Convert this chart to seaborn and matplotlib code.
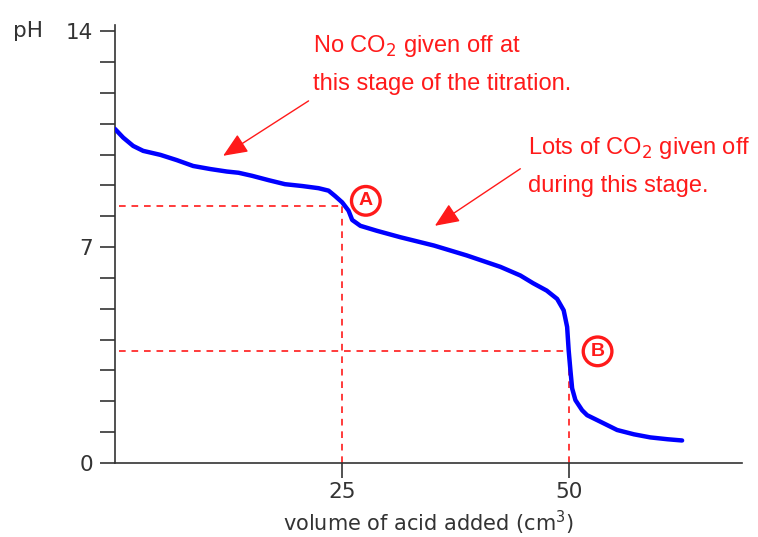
import matplotlib
matplotlib.use("Agg")
import matplotlib.pyplot as plt
import pandas as pd
import seaborn as sns

# titration curve
volume = [0, 0.9, 2.0, 3.1, 5.0, 6.8, 8.6, 10.5, 12.3, 13.6, 15.1, 16.9,
          18.7, 20.6, 22.4, 23.5, 24.2, 25.0, 25.7, 26.1, 27.0, 28.8, 31.4,
          35.1, 38.7, 42.4, 44.6, 46.0, 47.5, 48.65, 49.37, 49.75, 49.92,
          50.11, 50.30, 50.66, 51.4, 51.95, 53.4, 55.25, 57.1, 58.9, 60.8,
          62.4]
ph = [10.83, 10.55, 10.28, 10.12, 9.99, 9.82, 9.63, 9.53, 9.45, 9.41, 9.31,
      9.17, 9.04, 8.98, 8.91, 8.83, 8.66, 8.45, 8.18, 7.88, 7.69, 7.53, 7.32,
      7.05, 6.73, 6.36, 6.08, 5.83, 5.59, 5.32, 4.95, 4.41, 3.65, 3.01,
      2.42, 2.04, 1.71, 1.55, 1.34, 1.07, 0.93, 0.83, 0.77, 0.73]

# equivalence points A and B
eq_labels = ["A", "B"]
eq_volume = [25, 50]
eq_ph = [8.34, 3.62]

x_ticks = [25, 50]
y_labels = {0: "0", 7: "7", 14: "14"}

df = pd.DataFrame({"volume": volume, "ph": ph})

sns.set_style("ticks")
plt.rcParams["font.family"] = ["DejaVu Sans"]

red = "#ff1a1a"
grey = "#333333"
note_font = "Liberation Sans"

fig = plt.figure(figsize=(7.58, 5.37), dpi=100)
ax = fig.add_axes([0.1517, 0.1378, 0.979 - 0.1517, 0.9534 - 0.1378])

# dashed guides to the equivalence points
for v, p in zip(eq_volume, eq_ph):
    ax.plot([0.4, v], [p, p], color=red, lw=1.2, ls=(0, (4, 3.5)), zorder=1)
    ax.plot([v, v], [0, p], color=red, lw=1.2, ls=(0, (4, 3.5)), zorder=1)

sns.lineplot(data=df, x="volume", y="ph", color="#0000ff", lw=3.2,
             estimator=None, sort=False, ax=ax, zorder=3)

# circled letters
offsets = [(2.6, 0.16), (3.1, 0.0)]
for lab, v, p, (dx, dy) in zip(eq_labels, eq_volume, eq_ph, offsets):
    ax.text(v + dx, p + dy, lab, color=red, fontsize=14, fontweight="bold",
            family=note_font, ha="center", va="center", zorder=4,
            bbox=dict(boxstyle="circle,pad=0.3", fc="white", ec=red, lw=2.4))

arrow = dict(arrowstyle="-|>,head_length=0.75,head_width=0.32",
             mutation_scale=20, color=red, lw=1.0, shrinkA=0, shrinkB=0)

# notes with arrows
ax.text(21.8, 13.51, "No CO$_2$ given off at", color=red, fontsize=17,
        family=note_font, ha="left", va="center")
ax.text(21.8, 12.29, "this stage of the titration.", color=red, fontsize=17,
        family=note_font, ha="left", va="center")
ax.annotate("", xy=(11.9, 9.96), xytext=(21.3, 11.74), arrowprops=arrow)

ax.text(45.4, 10.22, "Lots of CO$_2$ given off", color=red, fontsize=17,
        family=note_font, ha="left", va="center")
ax.text(45.4, 8.99, "during this stage.", color=red, fontsize=17,
        family=note_font, ha="left", va="center")
ax.annotate("", xy=(35.2, 7.69), xytext=(44.6, 9.54), arrowprops=arrow)

ax.set_xlim(0, 69)
ax.set_ylim(0, 14.2)
ax.set_xticks(x_ticks)
ax.set_xticklabels([str(t) for t in x_ticks])
ax.set_yticks(range(0, 15))
ax.set_yticklabels([y_labels.get(i, "") for i in range(0, 15)])
ax.tick_params(axis="both", length=10.5, width=1.2, color=grey,
               labelcolor=grey, labelsize=15.5)
ax.tick_params(axis="y", pad=5)
ax.tick_params(axis="x", pad=3)

sns.despine(ax=ax)
for side in ["left", "bottom"]:
    ax.spines[side].set_color(grey)
    ax.spines[side].set_linewidth(1.2)

ax.set_xlabel("volume of acid added (cm$^3$)", color=grey, fontsize=15,
              labelpad=5)
ax.set_ylabel("")
fig.text(28 / 758, 1 - 31 / 537, "pH", color=grey, fontsize=15.5,
         ha="center", va="center")

fig.savefig("out.png", dpi=100)
